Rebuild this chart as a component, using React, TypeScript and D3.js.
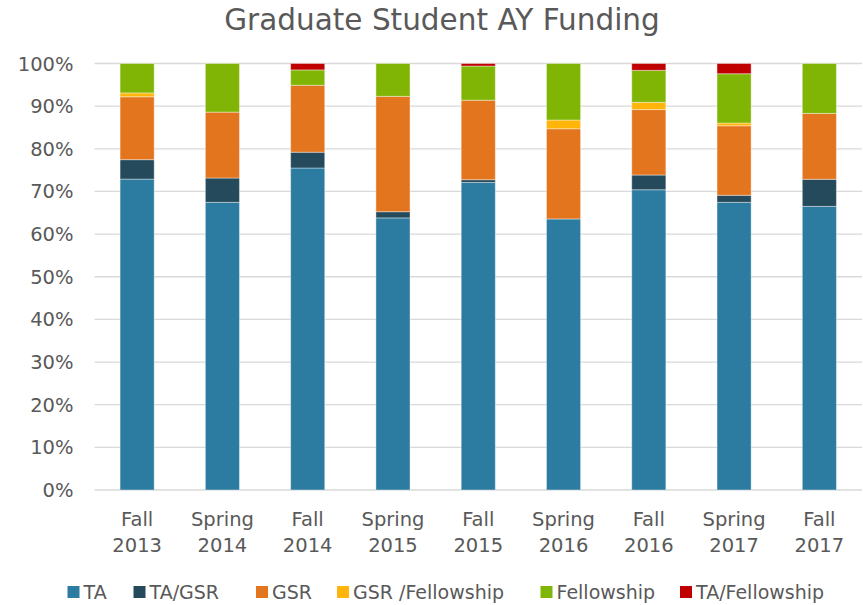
import * as d3 from "d3";
import { useEffect, useRef } from "react";

// terms along the x axis, two lines each
const terms = ["Fall 2013", "Spring 2014", "Fall 2014", "Spring 2015", "Fall 2015", "Spring 2016", "Fall 2016", "Spring 2017", "Fall 2017"];

const seriesNames = ["TA", "TA/GSR", "GSR", "GSR /Fellowship", "Fellowship", "TA/Fellowship"];
const seriesColors = ["#2C7BA0", "#244A5B", "#E3751F", "#FFB50A", "#80B506", "#C00000"];

// share of students per term (percent)
const ta = [72.9, 67.45, 75.5, 63.8, 72.1, 63.55, 70.4, 67.45, 66.5];
const taGsr = [4.55, 5.7, 3.7, 1.45, 0.65, 0, 3.45, 1.65, 6.35];
const gsr = [14.75, 15.45, 15.7, 27.05, 18.65, 21.15, 15.35, 16.3, 15.45];
const gsrFellowship = [0.9, 0, 0, 0, 0, 2.05, 1.7, 0.65, 0];
const fellowship = [6.9, 11.4, 3.6, 7.7, 8.0, 13.25, 7.5, 11.55, 11.7];
const taFellowship = [0, 0, 1.5, 0, 0.6, 0, 1.6, 2.4, 0];

const yTicks = [0, 10, 20, 30, 40, 50, 60, 70, 80, 90, 100];

const FONT = "'DejaVu Sans', sans-serif";
const TEXT = "#595959";

export default function App() {
    const ref = useRef<SVGSVGElement>(null);

    useEffect(() => {
        const svg = d3.select(ref.current);
        svg.selectAll("*").remove();

        const margin = { top: 63.5, left: 94.5, right: 1, bottom: 115 };
        const width = 863, height = 605;
        const innerW = width - margin.left - margin.right;
        const innerH = height - margin.top - margin.bottom;

        const cols = [ta, taGsr, gsr, gsrFellowship, fellowship, taFellowship];
        const rows = terms.map((t, i) => {
            const r: any = { term: t };
            seriesNames.forEach((s, j) => (r[s] = cols[j][i]));
            return r;
        });

        const X = d3.scaleBand().domain(terms).range([0, innerW]).paddingInner(0.6).paddingOuter(0.3);
        const Y = d3.scaleLinear().domain([0, 100]).range([innerH, 0]);

        const g = svg.append("g").attr("transform", `translate(${margin.left},${margin.top})`);

        // title
        svg.append("text")
            .attr("x", 442).attr("y", 30)
            .attr("text-anchor", "middle")
            .attr("font-family", FONT).attr("font-size", 29.5)
            .attr("fill", TEXT)
            .text("Graduate Student AY Funding");

        // grid
        g.selectAll(".grid").data(yTicks).join("line")
            .attr("x1", 0).attr("x2", innerW)
            .attr("y1", d => Y(d)).attr("y2", d => Y(d))
            .attr("stroke", "#D9D9D9").attr("stroke-width", 1.3);

        g.selectAll(".ylab").data(yTicks).join("text")
            .attr("x", -21).attr("y", d => Y(d) + 7)
            .attr("text-anchor", "end")
            .attr("font-family", FONT).attr("font-size", 19.5)
            .attr("fill", TEXT)
            .text(d => d + "%");

        // stacked bars
        const stacked = d3.stack().keys(seriesNames)(rows);
        g.selectAll(".layer").data(stacked).join("g")
            .attr("fill", (d, i) => seriesColors[i])
            .selectAll("rect").data(d => d).join("rect")
            .attr("x", (d: any) => X(d.data.term)!)
            .attr("width", X.bandwidth())
            .attr("y", d => Y(d[1]))
            .attr("height", d => Y(d[0]) - Y(d[1]))
            .attr("stroke", "#ffffff")
            .attr("stroke-opacity", 0.4)
            .attr("stroke-width", (d) => (d[1] - d[0] > 0 ? 1 : 0));

        // x labels
        const xl = g.selectAll(".xlab").data(terms).join("text")
            .attr("text-anchor", "middle")
            .attr("font-family", FONT).attr("font-size", 19.5)
            .attr("fill", TEXT);
        xl.append("tspan")
            .attr("x", d => X(d)! + X.bandwidth() / 2).attr("y", innerH + 36)
            .text(d => d.split(" ")[0]);
        xl.append("tspan")
            .attr("x", d => X(d)! + X.bandwidth() / 2).attr("y", innerH + 62)
            .text(d => d.split(" ")[1]);

        // legend
        const legendX = [67.5, 133.5, 256, 337, 540.5, 680];
        const lg = svg.selectAll(".leg").data(seriesNames).join("g")
            .attr("transform", (d, i) => `translate(${legendX[i]},${592})`);
        lg.append("rect")
            .attr("x", 0).attr("y", -6).attr("width", 12).attr("height", 12)
            .attr("fill", (d, i) => seriesColors[i]);
        lg.append("text")
            .attr("x", 16).attr("y", 7)
            .attr("font-family", FONT).attr("font-size", 19)
            .attr("fill", TEXT)
            .text(d => d);
    }, []);

    return (
        <svg ref={ref} width={863} height={605}
            style={{ position: "absolute", left: 0, top: 0, background: "#fff" }} />
    );
}
